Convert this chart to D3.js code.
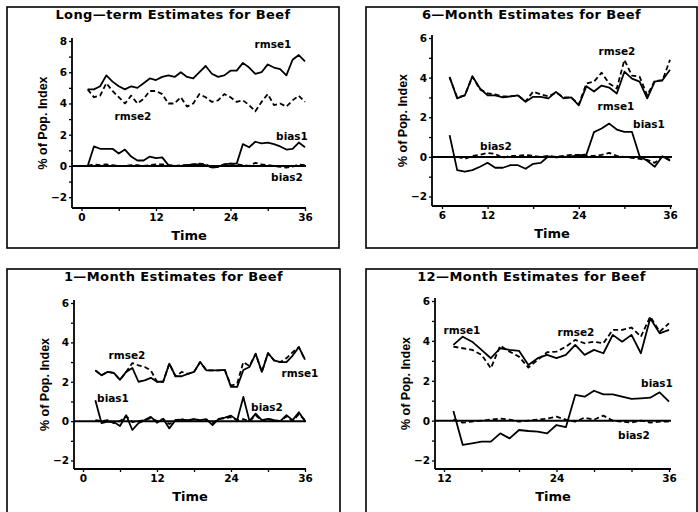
<!DOCTYPE html>
<html>
<head>
<meta charset="utf-8">
<script src="https://cdn.jsdelivr.net/npm/d3@7"></script>
<style>
  body { margin: 0; background: #fff; }
  svg { display: block; }
</style>
</head>
<body>
<div id="chart"></div>
<script>
// panel titles
var titles = ["Long\u2014term Estimates for Beef", "6\u2014Month Estimates for Beef",
              "1\u2014Month Estimates for Beef", "12\u2014Month Estimates for Beef"];

// time axis (months)
var timesLong = d3.range(1, 37);
var times6 = d3.range(7, 37);
var times1 = d3.range(2, 37);
var times12 = d3.range(13, 37);

// long-term estimates
var longRmse1 = [4.9,4.9,5.1,5.8,5.4,5.1,4.9,5.1,5.0,5.3,5.6,5.5,5.7,5.8,5.7,6.0,5.7,5.6,6.0,6.4,5.9,5.7,5.8,6.1,6.1,6.6,6.3,5.9,6.0,6.5,6.3,6.2,5.8,6.8,7.1,6.7];
var longRmse2 = [4.9,4.4,4.5,5.3,4.8,4.4,4.0,4.5,4.0,4.3,4.8,4.8,4.6,4.0,4.0,4.4,3.8,4.0,4.6,4.4,4.1,4.2,4.6,4.4,4.1,4.2,3.9,3.5,4.1,4.6,3.9,4.0,3.8,4.2,4.5,4.1];
var longBias1 = [0.0,1.25,1.1,1.1,1.1,0.8,1.05,0.6,0.35,0.35,0.6,0.5,0.55,0.05,0.0,0.0,0.05,0.1,0.1,0.05,-0.1,-0.05,0.1,0.15,0.15,1.4,1.2,1.55,1.45,1.5,1.4,1.25,1.05,1.1,1.5,1.2];
var longBias2 = [0.0,0.1,0.05,0.1,0.05,0.0,0.0,0.05,0.05,0.0,0.05,0.1,0.1,0.05,0.0,0.05,0.05,0.1,0.15,0.1,-0.1,-0.05,0.1,0.15,0.1,0.05,0.0,0.2,0.1,0.05,0.0,-0.05,-0.1,-0.05,0.1,0.05];

// 6-month estimates
var m6Rmse1 = [4.04,2.95,3.1,4.07,3.45,3.1,3.1,3.0,3.05,3.1,2.78,3.03,3.03,2.95,3.28,2.95,3.0,2.6,3.57,3.3,3.6,3.5,3.2,4.3,3.95,3.8,2.95,3.8,3.87,4.4];
var m6Rmse2 = [4.0,3.0,3.1,4.05,3.4,3.2,3.15,3.05,3.05,3.1,2.8,3.3,3.15,3.05,3.25,3.0,3.0,2.65,3.7,3.8,4.25,3.7,3.45,4.9,4.1,4.05,3.1,3.85,3.85,4.9];
var m6Bias1 = [1.1,-0.67,-0.75,-0.67,-0.5,-0.3,-0.55,-0.55,-0.42,-0.42,-0.6,-0.35,-0.3,0.03,-0.03,0.0,0.03,0.08,0.12,1.25,1.43,1.68,1.38,1.26,1.26,0.03,-0.2,-0.5,0.03,-0.2];
var m6Bias2 = [0.0,0.0,-0.1,0.05,0.1,0.2,0.15,-0.05,0.05,0.05,0.1,0.05,0.0,0.05,0.0,0.05,0.1,0.1,0.05,0.05,0.1,0.2,0.05,0.0,-0.05,-0.1,-0.15,-0.3,0.0,-0.15];

// 1-month estimates
var m1Rmse1 = [2.58,2.33,2.5,2.45,2.1,2.5,2.7,2.0,2.07,2.2,2.0,2.0,2.92,2.28,2.28,2.4,2.5,3.0,2.58,2.58,2.58,2.6,1.74,1.74,2.6,2.75,3.42,2.5,3.45,3.08,3.0,3.0,3.33,3.76,3.12];
var m1Rmse2 = [2.58,2.33,2.5,2.45,2.1,2.5,2.95,2.83,2.75,2.58,2.0,2.0,2.92,2.28,2.5,2.4,2.5,3.0,2.58,2.58,2.58,2.6,1.8,1.9,3.0,2.8,3.42,2.5,3.45,3.08,3.0,3.2,3.5,3.76,3.12];
var m1Bias1 = [1.06,-0.1,-0.02,-0.05,-0.25,0.3,-0.45,-0.1,0.05,0.22,-0.08,0.12,-0.37,0.05,0.08,0.05,0.1,0.05,0.1,-0.2,0.12,0.18,0.28,0.05,1.23,0.0,0.38,0.05,0.12,0.05,0.0,0.3,0.05,0.45,0.0];
var m1Bias2 = [0.05,0.0,0.05,-0.1,0.0,0.25,-0.05,0.0,0.05,0.15,0.0,0.1,-0.15,0.05,0.1,0.0,0.1,0.0,0.05,-0.1,0.1,0.15,0.2,0.05,0.1,0.0,0.3,0.0,0.1,0.05,0.0,0.25,0.0,0.35,0.05];

// 12-month estimates
var m12Rmse1 = [3.8,4.21,3.96,3.55,3.13,3.63,3.55,3.5,2.79,3.13,3.3,3.13,3.3,3.8,3.3,3.55,3.38,4.3,3.96,4.3,3.38,5.13,4.38,4.55];
var m12Rmse2 = [3.71,3.63,3.55,3.3,2.63,3.76,3.46,3.21,2.66,3.05,3.43,3.46,3.71,4.05,3.88,3.96,3.88,4.55,4.55,4.67,4.21,5.22,4.46,4.88];
var m12Bias1 = [0.48,-1.22,-1.14,-1.05,-1.05,-0.64,-0.89,-0.47,-0.52,-0.55,-0.64,-0.22,-0.33,1.29,1.2,1.5,1.32,1.32,1.2,1.09,1.12,1.15,1.42,0.95];
var m12Bias2 = [0.05,-0.1,-0.05,0.0,0.05,0.1,0.05,-0.05,0.0,0.05,0.1,0.2,0.05,-0.05,0.15,0.05,0.25,0.0,-0.05,-0.1,0.0,-0.1,-0.05,-0.05];

// tick labels
var xLabelsLong = [0, 12, 24, 36];
var xLabels6 = [6, 12, 24, 36];
var xLabels1 = [0, 12, 24, 36];
var xLabels12 = [12, 24, 36];
var yLabelsLong = [-2, 0, 2, 4, 6, 8];
var yLabelsShort = [-2, 0, 2, 4, 6];

var seriesNames = ["rmse1", "rmse2", "bias1", "bias2"];

// layout of each panel, in pixels
var panels = [
  { title: titles[0], box: [7, 7, 339, 248], times: timesLong,
    series: [longRmse1, longRmse2, longBias1, longBias2],
    xDom: [0, 36], xRange: [81.5, 305], xAxis: [72, 306], xMinor: 6,
    yDom: [-2, 8], yRange: [197.2, 41], yAxis: [208, 38],
    xLabels: xLabelsLong, yLabels: yLabelsLong,
    tags: [[273, 48], [133, 120], [292, 140], [287, 181]] },
  { title: titles[1], box: [366, 7, 697, 248], times: times6,
    series: [m6Rmse1, m6Rmse2, m6Bias1, m6Bias2],
    xDom: [6, 36], xRange: [442, 670], xAxis: [432, 672], xMinor: 6,
    yDom: [-2, 6], yRange: [196.5, 38], yAxis: [206, 35],
    xLabels: xLabels6, yLabels: yLabelsShort,
    tags: [[616, 110], [617, 55], [649, 128], [496, 150]] },
  { title: titles[2], box: [7, 269, 340, 520], times: times1,
    series: [m1Rmse1, m1Rmse2, m1Bias1, m1Bias2],
    xDom: [0, 36], xRange: [83, 305], xAxis: [74, 306], xMinor: 6,
    yDom: [-2, 6], yRange: [460.5, 303], yAxis: [469, 300],
    xLabels: xLabels1, yLabels: yLabelsShort,
    tags: [[300, 377], [127, 359], [113, 402], [267, 411]] },
  { title: titles[3], box: [366, 269, 697, 520], times: times12,
    series: [m12Rmse1, m12Rmse2, m12Bias1, m12Bias2],
    xDom: [12, 36], xRange: [444, 669], xAxis: [435, 671], xMinor: 4,
    yDom: [-2, 6], yRange: [460.5, 301], yAxis: [469, 298],
    xLabels: xLabels12, yLabels: yLabelsShort,
    tags: [[462, 334], [576, 336], [657, 387], [634, 439]] }
];

var svg = d3.select("#chart").append("svg")
    .attr("width", 698)
    .attr("height", 512)
    .style("font-family", "'DejaVu Sans', sans-serif")
    .style("font-weight", "bold");

svg.append("rect").attr("width", 698).attr("height", 512).attr("fill", "#fff");

panels.forEach(function (p) {
    var g = svg.append("g");
    var x = d3.scaleLinear().domain(p.xDom).range(p.xRange);
    var y = d3.scaleLinear().domain(p.yDom).range(p.yRange);
    var xAxisY = p.yAxis[0], yAxisX = p.xAxis[0];

    // frame
    g.append("rect")
        .attr("x", p.box[0]).attr("y", p.box[1])
        .attr("width", p.box[2] - p.box[0]).attr("height", p.box[3] - p.box[1])
        .attr("fill", "none").attr("stroke", "#000").attr("stroke-width", 1.6);

    g.append("text")
        .attr("x", (p.box[0] + p.box[2]) / 2).attr("y", p.box[1] + 12)
        .attr("text-anchor", "middle")
        .attr("font-size", "13px")
        .attr("letter-spacing", "0.4px")
        .text(p.title);

    // y axis
    var yTicks = d3.range(p.yDom[0], p.yDom[1] + 1);
    var yAx = d3.axisLeft(y).tickValues(yTicks).tickSize(3)
        .tickFormat(function (d) { return p.yLabels.indexOf(d) >= 0 ? (d < 0 ? "\u2212" + (-d) : d) : ""; });
    var ya = g.append("g").attr("transform", "translate(" + yAxisX + ",0)").call(yAx);
    ya.select(".domain").remove();
    ya.selectAll("line").attr("stroke-width", 1.3);
    ya.selectAll("text").attr("font-size", "10.5px").attr("font-family", "'DejaVu Sans', sans-serif")
        .attr("font-weight", "bold").attr("x", -5);
    g.append("line")
        .attr("x1", yAxisX).attr("x2", yAxisX)
        .attr("y1", p.yAxis[0]).attr("y2", p.yAxis[1])
        .attr("stroke", "#000").attr("stroke-width", 1.8);

    // x axis
    var xTicks = d3.range(p.xDom[0], p.xDom[1] + 1, p.xMinor);
    var xAx = d3.axisBottom(x).tickValues(xTicks).tickSize(3)
        .tickFormat(function (d) { return p.xLabels.indexOf(d) >= 0 ? d : ""; });
    var xa = g.append("g").attr("transform", "translate(0," + xAxisY + ")").call(xAx);
    xa.select(".domain").remove();
    xa.selectAll("line").attr("stroke-width", 1.3);
    xa.selectAll("text").attr("font-size", "10.5px").attr("font-family", "'DejaVu Sans', sans-serif")
        .attr("font-weight", "bold").attr("y", 6);
    g.append("line")
        .attr("x1", p.xAxis[0]).attr("x2", p.xAxis[1])
        .attr("y1", xAxisY).attr("y2", xAxisY)
        .attr("stroke", "#000").attr("stroke-width", 1.8);

    // axis titles
    g.append("text")
        .attr("x", (p.xAxis[0] + p.xAxis[1]) / 2).attr("y", xAxisY + 32)
        .attr("text-anchor", "middle").attr("font-size", "13px")
        .text("Time");
    g.append("text")
        .attr("transform", "translate(" + (yAxisX - 25) + "," + ((p.yAxis[0] + p.yAxis[1]) / 2) + ") rotate(-90)")
        .attr("text-anchor", "middle")
        .attr("font-family", "'Liberation Sans', Arial, sans-serif")
        .attr("font-size", "12.5px")
        .text("% of Pop. Index");

    // zero reference line
    g.append("line")
        .attr("x1", yAxisX).attr("x2", p.xAxis[1])
        .attr("y1", y(0)).attr("y2", y(0))
        .attr("stroke", "#000").attr("stroke-width", 2);

    var line = d3.line()
        .x(function (d) { return x(d[0]); })
        .y(function (d) { return y(d[1]); });

    p.series.forEach(function (vals, i) {
        var pts = vals.map(function (v, j) { return [p.times[j], v]; });
        g.append("path")
            .datum(pts)
            .attr("d", line)
            .attr("fill", "none")
            .attr("stroke", "#000")
            .attr("stroke-width", 1.8)
            .attr("stroke-linejoin", "round")
            .attr("stroke-dasharray", i % 2 === 1 ? "5,3" : null);

        g.append("text")
            .attr("x", p.tags[i][0]).attr("y", p.tags[i][1])
            .attr("text-anchor", "middle")
            .attr("font-size", "10.5px")
            .text(seriesNames[i]);
    });
});
</script>
</body>
</html>
